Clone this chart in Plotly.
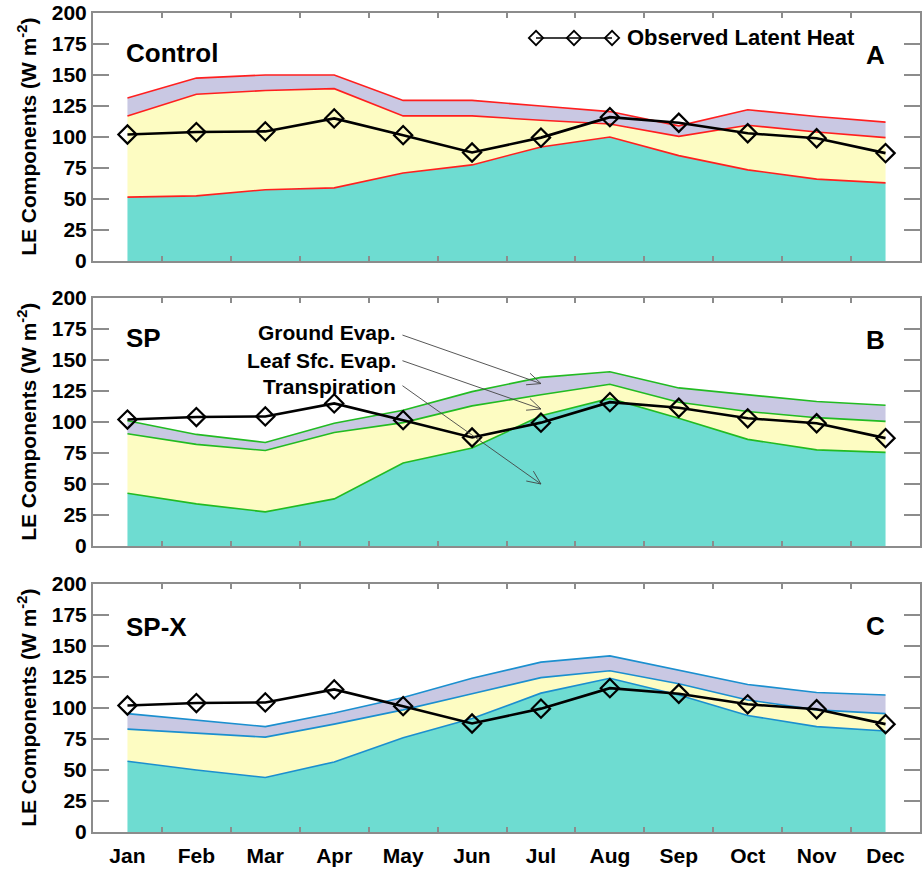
import numpy as np
import plotly.graph_objects as go

# ---- data (W m-2) ----
months = ["Jan", "Feb", "Mar", "Apr", "May", "Jun", "Jul", "Aug", "Sep", "Oct", "Nov", "Dec"]
observed_le = [102, 104, 104.5, 115, 101.5, 87.5, 99.5, 116, 111.5, 103, 99, 87]

# Control run
control_transp = [51.5, 52.5, 57.5, 59, 71, 77.5, 92, 100, 85, 73.5, 66, 63]
control_leaf = [65.5, 82, 80, 80, 46, 39.5, 21.5, 10.5, 15.5, 36, 38, 36.5]
control_ground = [14.5, 13, 12.5, 11, 12.5, 12.5, 11.5, 10, 8.5, 12.5, 12.5, 12.5]

# SP run
sp_transp = [42.5, 34, 27.5, 38, 67, 79, 105, 119, 103, 86, 77.5, 75.5]
sp_leaf = [48, 48, 49.5, 53.5, 32.5, 34, 17, 11.5, 13, 22.5, 26, 25]
sp_ground = [10.5, 8, 6.5, 7.5, 10, 11.5, 14, 10, 11.5, 13.5, 13, 13]

# SP-X run
spx_transp = [57, 50, 44, 56.5, 76, 91.5, 112, 124, 110.5, 94, 85, 81.5]
spx_leaf = [26, 29.5, 32.5, 30.5, 22.5, 20, 12.5, 6, 9, 12.5, 13.5, 14]
spx_ground = [12.5, 10.5, 8.5, 9, 10, 12.5, 12.5, 12, 11, 12.5, 14, 15]

y_ticks = [0, 25, 50, 75, 100, 125, 150, 175, 200]

# ---- styling ----
FONT = "Liberation Sans, Arial, Helvetica, sans-serif"
C_TRANSP = "#6edcd1"
C_LEAF = "#fdfcc2"
C_GROUND = "#c9c8e3"
FRAME = "#8c8c8c"

panels = [
    dict(name="Control", letter="A", edge="#ff1f1f",
         comps=(control_transp, control_leaf, control_ground)),
    dict(name="SP", letter="B", edge="#22bb22",
         comps=(sp_transp, sp_leaf, sp_ground)),
    dict(name="SP-X", letter="C", edge="#1b8fcf",
         comps=(spx_transp, spx_leaf, spx_ground)),
]
domains = [(0.6972, 1.0), (0.3492, 0.652), (0.0, 0.3028)]

x = list(range(len(months)))
fig = go.Figure()

for i, p in enumerate(panels):
    n = i + 1
    xa = "x" if n == 1 else f"x{n}"
    ya = "y" if n == 1 else f"y{n}"
    for vals, col, lab in zip(p["comps"], (C_TRANSP, C_LEAF, C_GROUND),
                              ("Transpiration", "Leaf Sfc. Evap.", "Ground Evap.")):
        fig.add_trace(go.Scatter(
            x=x, y=vals, xaxis=xa, yaxis=ya, mode="lines",
            stackgroup=f"s{n}", fillcolor=col,
            line=dict(color=p["edge"], width=1.6),
            name=lab, showlegend=False, hoverinfo="skip"))
    fig.add_trace(go.Scatter(
        x=x, y=observed_le, xaxis=xa, yaxis=ya, mode="lines+markers",
        line=dict(color="black", width=2.6),
        marker=dict(symbol="diamond-open", size=14, color="black",
                    line=dict(width=2.2, color="black")),
        name="Observed Latent Heat", showlegend=False))

    axis_common = dict(showline=True, linecolor=FRAME, linewidth=2, mirror="ticks",
                       tickcolor=FRAME, showgrid=False, zeroline=False, automargin=False)
    fig.layout[f"xaxis{'' if n == 1 else n}"] = dict(
        axis_common, domain=[0, 1], anchor=ya, range=[-0.5, 11.5],
        tickmode="array", tickvals=x,
        ticktext=months if n == 3 else [""] * 12, ticks="",
        ticklabelstandoff=4,
        tickfont=dict(family=FONT, size=21, color="black", weight="bold"),
        minor=dict(tickmode="array", tickvals=[v + 0.5 for v in x[:-1]],
                   ticks="inside", ticklen=5, tickwidth=1.5, tickcolor=FRAME),
        matches=None if n == 1 else "x")
    fig.layout[f"yaxis{'' if n == 1 else n}"] = dict(
        axis_common, domain=list(domains[i]), anchor=xa, range=[0, 200],
        tickmode="array", tickvals=y_ticks, ticks="inside", ticklen=16, tickwidth=1.5,
        tickfont=dict(family=FONT, size=21, color="black", weight="bold"))

    # panel titles
    fig.add_annotation(xref=f"{xa} domain", yref=f"{ya} domain", x=0.037,
                       y=0.84 if n < 3 else 0.827, xanchor="left", yanchor="middle",
                       text=p["name"], showarrow=False,
                       font=dict(family=FONT, size=26, color="black", weight="bold"))
    fig.add_annotation(xref=f"{xa} domain", yref=f"{ya} domain", x=0.96,
                       y=0.83 if n == 1 else 0.832, xanchor="right", yanchor="middle",
                       text=p["letter"], showarrow=False,
                       font=dict(family=FONT, size=26, color="black", weight="bold"))
    # y-axis title
    fig.add_annotation(xref="paper", yref=f"{ya} domain", x=-0.08, y=0.5,
                       xanchor="center", yanchor="middle", textangle=-90,
                       text="LE Components (W m<sup>-2</sup>)", showarrow=False,
                       font=dict(family=FONT, size=21, color="black", weight="bold"))

# ---- key for the observed series (top of panel A) ----
key_x = [0.5357, 0.5816, 0.6276]
fig.add_trace(go.Scatter(
    x=key_x, y=[0.9695] * 3, xaxis="x4", yaxis="y4", mode="lines+markers",
    line=dict(color="black", width=1.6),
    marker=dict(symbol="diamond-open", size=11, color="black", line=dict(width=1.8)),
    showlegend=False, hoverinfo="skip"))
fig.layout["xaxis4"] = dict(domain=[0, 1], range=[0, 1], anchor="y4", visible=False)
fig.layout["yaxis4"] = dict(domain=[0, 1], range=[0, 1], anchor="x4", visible=False)
fig.add_annotation(xref="paper", yref="paper", x=0.6433, y=0.9695, xanchor="left",
                   yanchor="middle", text="Observed Latent Heat", showarrow=False,
                   font=dict(family=FONT, size=22, color="black", weight="bold"))

# ---- component labels with pointer arrows in panel B ----
labels = ["Ground Evap.", "Leaf Sfc. Evap.", "Transpiration"]
label_y = [171.8, 150, 129]
tip_y = [131, 110.5, 50]
tail_px = [(-138.5, 48.5), (-138.5, 48.3), (-138.5, 98.3)]  # tail offset from tip, px
for lab, ly, ty, (tx, tyy) in zip(labels, label_y, tip_y, tail_px):
    fig.add_annotation(xref="x2", yref="y2", x=3.92, y=ly, xanchor="right",
                       yanchor="middle", text=lab, showarrow=False,
                       font=dict(family=FONT, size=21, color="black", weight="bold"))
    d = np.array([tx, tyy]) / np.hypot(tx, tyy)
    heads = []
    for ang in (np.radians(24), -np.radians(24)):
        rot = np.array([[np.cos(ang), -np.sin(ang)], [np.sin(ang), np.cos(ang)]])
        heads.append(rot @ d * 15)
    path = (f"M {tx:.1f},{tyy:.1f} L 0,0 "
            f"M {heads[0][0]:.1f},{heads[0][1]:.1f} L 0,0 "
            f"L {heads[1][0]:.1f},{heads[1][1]:.1f}")
    fig.add_shape(type="path", xref="x2", yref="y2", xsizemode="pixel",
                  ysizemode="pixel", xanchor=6.0, yanchor=ty, path=path,
                  line=dict(color="#444444", width=0.9))

fig.update_layout(
    width=922, height=869,
    margin=dict(l=93, r=2, t=13, b=37, autoexpand=False),
    paper_bgcolor="white", plot_bgcolor="rgba(0,0,0,0)",
    showlegend=False, font=dict(family=FONT, color="black"),
)

fig.write_html("out.html")
